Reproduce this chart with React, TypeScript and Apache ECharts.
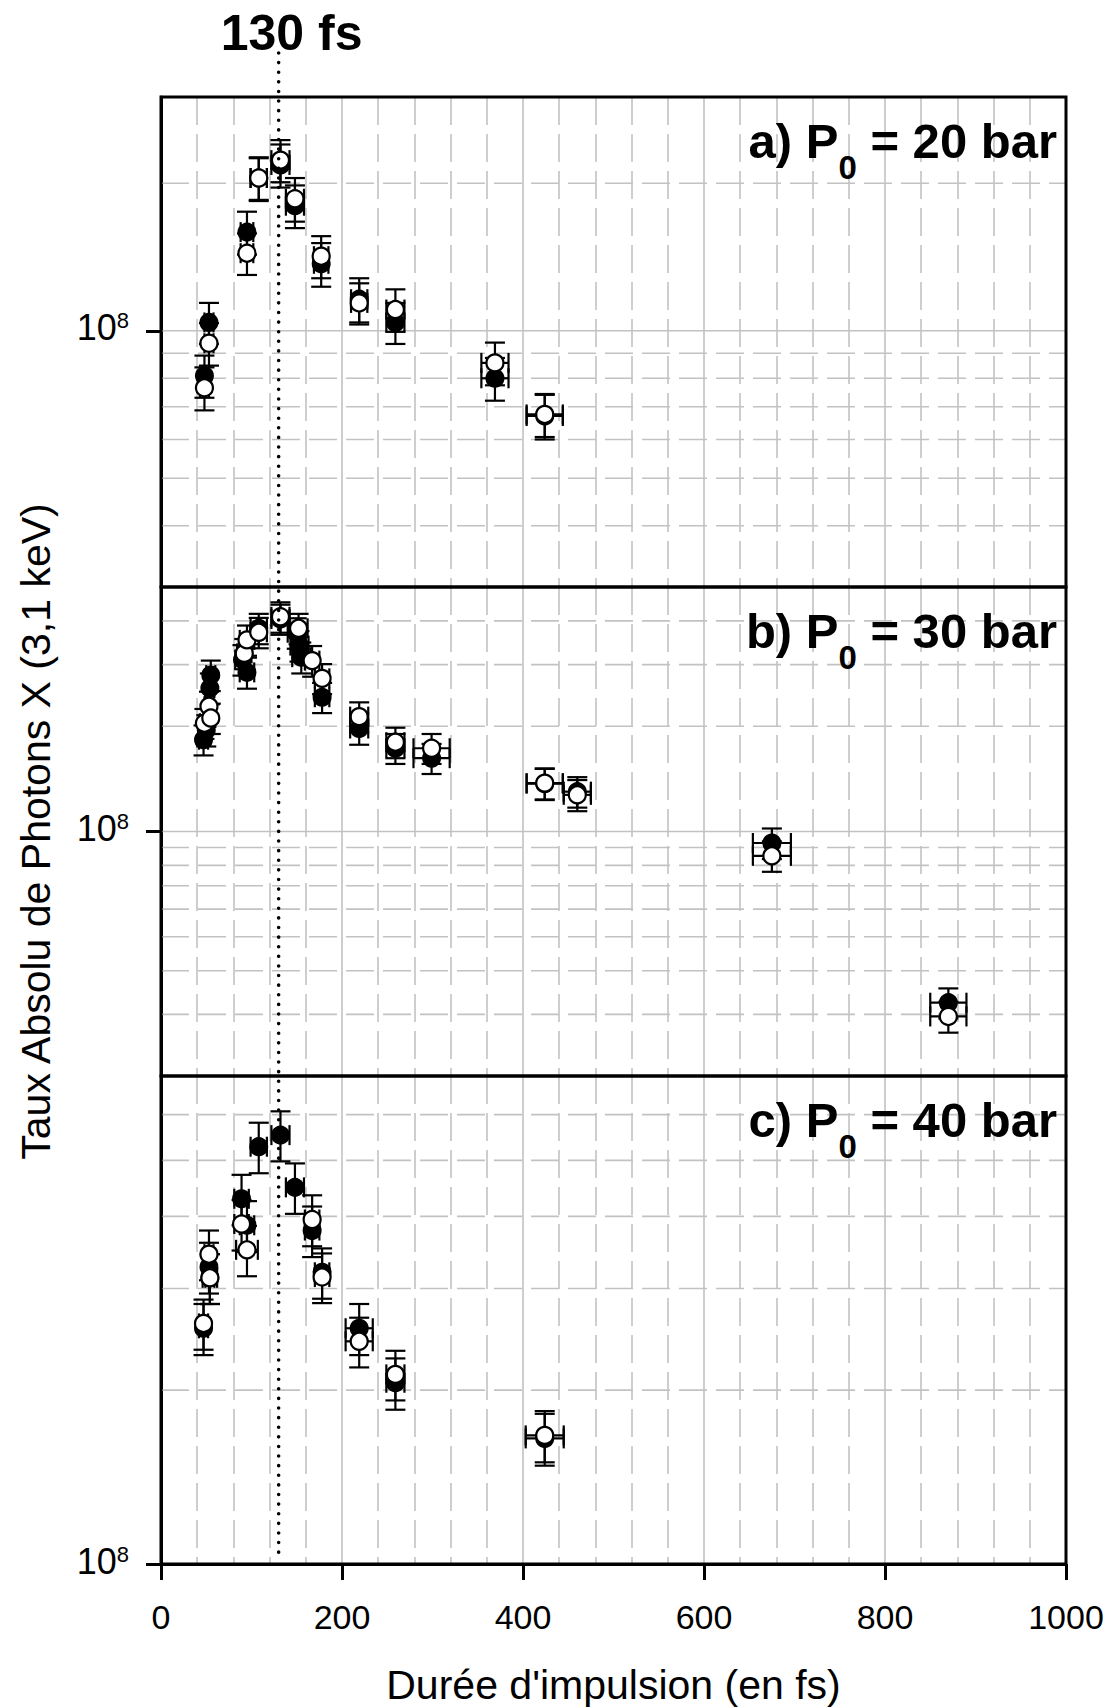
import React, { useEffect, useRef } from "react";
import * as echarts from "echarts";

const FONT = '"Liberation Sans", Arial, Helvetica, sans-serif';
const GRID_COLOR = "#c2c2c2";

// ---- axes / annotation values ----
const X_MIN = 0;
const X_MAX = 1000;
const X_STEP = 200;
const X_MINOR_SPLIT = 5;
const PULSE_REF = 130;
const PULSE_LABEL = "130 fs";
const X_TITLE = "Durée d'impulsion (en fs)";
const Y_TITLE = "Taux Absolu de Photons X (3,1 keV)";
const Y_UNIT = 1e8; // y values below are in units of 1e8 photons
const Y_LABEL_VALUES = [1];

// ---- panel a) P0 = 20 bar ----
const aTitle = ["a) P", "0", " = 20 bar"];
const aYRange = [0.3, 3];
const aGridMinor = [0.4, 0.5, 0.6, 0.7, 0.8, 0.9, 2];
const aGridMajor = [1];
const aFilledX = [48, 53, 95, 108, 132, 148, 177, 219, 259, 369, 424];
const aFilledY = [0.81, 1.04, 1.59, 2.05, 2.18, 1.8, 1.37, 1.16, 1.04, 0.8, 0.67];
const aFilledXErr = [5, 5, 7, 9, 10, 10, 8, 9, 10, 15, 20];
const aFilledYErr = [0.08, 0.1, 0.16, 0.21, 0.22, 0.18, 0.14, 0.12, 0.1, 0.08, 0.07];
const aOpenX = [48, 53, 95, 108, 132, 148, 177, 219, 259, 369, 424];
const aOpenY = [0.765, 0.943, 1.44, 2.05, 2.23, 1.86, 1.42, 1.14, 1.105, 0.86, 0.675];
const aOpenXErr = [5, 5, 7, 9, 10, 10, 8, 9, 10, 15, 20];
const aOpenYErr = [0.077, 0.094, 0.14, 0.2, 0.22, 0.19, 0.14, 0.11, 0.11, 0.086, 0.068];

// ---- panel b) P0 = 30 bar ----
const bTitle = ["b) P", "0", " = 30 bar"];
const bYRange = [0.2, 5];
const bGridMinor = [0.3, 0.4, 0.5, 0.6, 0.7, 0.8, 0.9, 2, 3, 4];
const bGridMajor = [1];
const bFilledX = [47, 50, 54, 55, 90, 95, 108, 132, 150, 153, 155, 178, 219, 259, 299, 424, 460, 675, 870];
const bFilledY = [1.83, 1.95, 2.57, 2.8, 3.1, 2.85, 3.81, 4.05, 3.7, 3.4, 3.15, 2.42, 1.97, 1.73, 1.62, 1.37, 1.3, 0.927, 0.324];
const bFilledXErr = [5, 5, 5, 5, 8, 8, 9, 10, 10, 10, 10, 8, 10, 10, 20, 20, 15, 21, 20];
const bFilledYErr = [0.18, 0.2, 0.26, 0.28, 0.31, 0.29, 0.38, 0.4, 0.37, 0.34, 0.32, 0.24, 0.2, 0.17, 0.16, 0.14, 0.13, 0.093, 0.032];
const bOpenX = [48, 53, 55, 92, 95, 108, 132, 152, 167, 178, 219, 259, 299, 424, 460, 675, 870];
const bOpenY = [2.04, 2.28, 2.11, 3.23, 3.53, 3.71, 4.11, 3.81, 3.08, 2.74, 2.13, 1.8, 1.73, 1.375, 1.273, 0.852, 0.296];
const bOpenXErr = [5, 5, 5, 8, 8, 9, 10, 10, 8, 8, 10, 10, 20, 20, 15, 21, 20];
const bOpenYErr = [0.2, 0.23, 0.21, 0.32, 0.35, 0.37, 0.41, 0.38, 0.31, 0.27, 0.21, 0.18, 0.17, 0.14, 0.13, 0.085, 0.03];

// ---- panel c) P0 = 40 bar ----
const cTitle = ["c) P", "0", " = 40 bar"];
const cYRange = [1, 7];
const cGridMinor = [2, 3, 4, 5, 6];
const cGridMajor = [1];
const cFilledX = [47, 53, 54, 89, 95, 108, 132, 148, 167, 178, 219, 259, 424];
const cFilledY = [2.56, 3.27, 3.13, 4.29, 3.86, 5.28, 5.53, 4.49, 3.78, 3.2, 2.56, 2.06, 1.65];
const cFilledXErr = [5, 5, 5, 8, 8, 9, 10, 10, 8, 8, 15, 10, 21];
const cFilledYErr = [0.26, 0.33, 0.31, 0.43, 0.39, 0.53, 0.55, 0.45, 0.38, 0.32, 0.26, 0.21, 0.17];
const cOpenX = [47, 53, 54, 89, 95, 167, 178, 219, 259, 424];
const cOpenY = [2.61, 3.44, 3.13, 3.88, 3.5, 3.95, 3.14, 2.43, 2.13, 1.67];
const cOpenXErr = [5, 5, 8, 8, 12, 8, 8, 15, 10, 21];
const cOpenYErr = [0.26, 0.34, 0.31, 0.39, 0.35, 0.4, 0.31, 0.24, 0.21, 0.17];

// ---- layout ----
const W = 1112;
const H = 1708;
const PLOT_LEFT = 161;
const PLOT_WIDTH = 905;
const PANEL_TOPS = [97, 587, 1076];
const PANEL_HEIGHTS = [490, 489, 488];

const panels = [
  {
    title: aTitle, yRange: aYRange, minor: aGridMinor, major: aGridMajor,
    filled: { x: aFilledX, y: aFilledY, xe: aFilledXErr, ye: aFilledYErr },
    open: { x: aOpenX, y: aOpenY, xe: aOpenXErr, ye: aOpenYErr },
  },
  {
    title: bTitle, yRange: bYRange, minor: bGridMinor, major: bGridMajor,
    filled: { x: bFilledX, y: bFilledY, xe: bFilledXErr, ye: bFilledYErr },
    open: { x: bOpenX, y: bOpenY, xe: bOpenXErr, ye: bOpenYErr },
  },
  {
    title: cTitle, yRange: cYRange, minor: cGridMinor, major: cGridMajor,
    filled: { x: cFilledX, y: cFilledY, xe: cFilledXErr, ye: cFilledYErr },
    open: { x: cOpenX, y: cOpenY, xe: cOpenXErr, ye: cOpenYErr },
  },
];

function gridLineRender(params: any, api: any) {
  const y = api.value(1);
  const major = api.value(3);
  const p1 = api.coord([api.value(0), y]);
  const p2 = api.coord([api.value(2), y]);
  return {
    type: "line",
    shape: { x1: p1[0], y1: p1[1], x2: p2[0], y2: p2[1] },
    style: {
      stroke: GRID_COLOR,
      lineWidth: 1.6,
      lineDash: major ? null : [28, 9],
    },
    silent: true,
  };
}

const CAP = 10;
function errRender(params: any, api: any) {
  const x = api.value(0);
  const y = api.value(1);
  const xe = api.value(2);
  const ye = api.value(3);
  const top = api.coord([x, y + ye]);
  const bot = api.coord([x, y - ye]);
  const lft = api.coord([x - xe, y]);
  const rgt = api.coord([x + xe, y]);
  const style = { stroke: "#000", lineWidth: 2.2, fill: null };
  const ln = (x1: number, y1: number, x2: number, y2: number) => ({
    type: "line",
    shape: { x1, y1, x2, y2 },
    style,
  });
  return {
    type: "group",
    children: [
      ln(top[0], top[1], bot[0], bot[1]),
      ln(top[0] - CAP, top[1], top[0] + CAP, top[1]),
      ln(bot[0] - CAP, bot[1], bot[0] + CAP, bot[1]),
      ln(lft[0], lft[1], rgt[0], rgt[1]),
      ln(lft[0], lft[1] - CAP, lft[0], lft[1] + CAP),
      ln(rgt[0], rgt[1] - CAP, rgt[0], rgt[1] + CAP),
    ],
  };
}

function rows(s: { x: number[]; y: number[]; xe: number[]; ye: number[] }) {
  return s.x.map((x, i) => [x, s.y[i], s.xe[i], s.ye[i]]);
}

export default function App() {
  const ref = useRef<HTMLDivElement>(null);

  useEffect(() => {
    if (!ref.current) return;
    const chart = echarts.init(ref.current, null, { renderer: "svg" });

    const axisNameStyle = { fontSize: 41, color: "#000", fontFamily: FONT };

    const grid = panels.map((p, i) => ({
      left: PLOT_LEFT,
      width: PLOT_WIDTH,
      top: PANEL_TOPS[i],
      height: PANEL_HEIGHTS[i],
      show: true,
      backgroundColor: "transparent",
      borderColor: "#000",
      borderWidth: 3,
      z: 10,
      containLabel: false,
      outerBoundsMode: "none",
    }));

    const xAxis = panels.map((p, i) => {
      const isBottom = i === panels.length - 1;
      return {
        type: "value",
        gridIndex: i,
        min: X_MIN,
        max: X_MAX,
        interval: X_STEP,
        axisLine: { show: isBottom, lineStyle: { color: "#000", width: 3 } },
        axisTick: { show: isBottom, length: 16, inside: false, lineStyle: { color: "#000", width: 3 } },
        axisLabel: {
          show: isBottom,
          fontSize: 34,
          color: "#000",
          fontFamily: FONT,
          margin: 36,
          showMinLabel: true,
          showMaxLabel: true,
          formatter: (v: number) => String(v),
        },
        splitLine: { show: true, lineStyle: { color: GRID_COLOR, width: 1.6 } },
        minorTick: { show: false, splitNumber: X_MINOR_SPLIT },
        minorSplitLine: { show: true, lineStyle: { color: GRID_COLOR, width: 1.6, type: [28, 9] } },
        name: isBottom ? X_TITLE : "",
        nameLocation: "middle",
        nameGap: 100,
        nameTextStyle: axisNameStyle,
      };
    });

    const yAxis = panels.map((p, i) => ({
      type: "log",
      logBase: 10,
      gridIndex: i,
      min: p.yRange[0],
      max: p.yRange[1],
      axisLine: { show: true, lineStyle: { color: "#000", width: 3 } },
      axisTick: {
        show: true,
        customValues: Y_LABEL_VALUES,
        length: 15,
        inside: false,
        lineStyle: { color: "#000", width: 3 },
      },
      axisLabel: {
        show: true,
        customValues: Y_LABEL_VALUES,
        margin: 32,
        formatter: (v: number) => {
          const exp = Math.round(Math.log10(v * Y_UNIT));
          return "{n|10}{e|" + exp + "}";
        },
        rich: {
          n: { fontSize: 36, fontFamily: FONT, color: "#000", lineHeight: 42, verticalAlign: "top" },
          e: { fontSize: 22, fontFamily: FONT, color: "#000", lineHeight: 30, verticalAlign: "top" },
        },
      },
      splitLine: { show: false },
      minorTick: { show: false },
      minorSplitLine: { show: false },
      name: i === 1 ? Y_TITLE : "",
      nameLocation: "middle",
      nameGap: 105,
      nameTextStyle: axisNameStyle,
    }));

    const series: any[] = [];
    panels.forEach((p, i) => {
      const gridData = [
        ...p.minor.map((v) => [X_MIN, v, X_MAX, 0]),
        ...p.major.map((v) => [X_MIN, v, X_MAX, 1]),
      ];
      series.push({
        type: "custom",
        xAxisIndex: i,
        yAxisIndex: i,
        z: 1,
        silent: true,
        renderItem: gridLineRender,
        encode: { x: [0, 2], y: 1 },
        data: gridData,
      });
      series.push({
        type: "custom",
        xAxisIndex: i,
        yAxisIndex: i,
        z: 2,
        silent: true,
        renderItem: errRender,
        encode: { x: 0, y: 1 },
        data: rows(p.filled),
      });
      series.push({
        type: "scatter",
        xAxisIndex: i,
        yAxisIndex: i,
        z: 2,
        silent: true,
        symbol: "circle",
        symbolSize: 17,
        itemStyle: { color: "#000", borderColor: "#000", borderWidth: 2, opacity: 1 },
        data: p.filled.x.map((x, k) => [x, p.filled.y[k]]),
      });
      series.push({
        type: "custom",
        xAxisIndex: i,
        yAxisIndex: i,
        z: 2,
        silent: true,
        renderItem: errRender,
        encode: { x: 0, y: 1 },
        data: rows(p.open),
      });
      series.push({
        type: "scatter",
        xAxisIndex: i,
        yAxisIndex: i,
        z: 2,
        silent: true,
        symbol: "circle",
        symbolSize: 17,
        itemStyle: { color: "#fff", borderColor: "#000", borderWidth: 2.2, opacity: 1 },
        data: p.open.x.map((x, k) => [x, p.open.y[k]]),
      });
    });

    chart.setOption({
      animation: false,
      backgroundColor: "#fff",
      textStyle: { fontFamily: FONT },
      grid,
      xAxis,
      yAxis,
      series,
    });

    const px = chart.convertToPixel({ xAxisIndex: 0 }, PULSE_REF) as number;
    const lastBottom = PANEL_TOPS[2] + PANEL_HEIGHTS[2];

    const labelRich = {
      m: { fontSize: 49, fontWeight: "bold", fontFamily: FONT, color: "#000", lineHeight: 56, verticalAlign: "top" },
      s: { fontSize: 33, fontWeight: "bold", fontFamily: FONT, color: "#000", lineHeight: 68, verticalAlign: "bottom" },
    };

    const elements: any[] = [
      {
        type: "line",
        z: 100,
        silent: true,
        shape: { x1: px, y1: 53, x2: px, y2: lastBottom - 5 },
        style: { stroke: "#000", lineWidth: 3.6, lineDash: [0.01, 9.6], lineCap: "round" },
      },
      {
        type: "text",
        z: 100,
        silent: true,
        x: px + 13,
        y: 33,
        style: {
          text: PULSE_LABEL,
          fontSize: 50,
          fontWeight: "bold",
          fontFamily: FONT,
          fill: "#000",
          align: "center",
          verticalAlign: "middle",
        },
      },
      ...panels.map((p, i) => ({
        type: "text",
        z: 100,
        silent: true,
        x: PLOT_LEFT + PLOT_WIDTH - 9,
        y: PANEL_TOPS[i] + 19,
        style: {
          text: "{m|" + p.title[0] + "}{s|" + p.title[1] + "}{m|" + p.title[2] + "}",
          rich: labelRich,
          align: "right",
          verticalAlign: "top",
        },
      })),
    ];

    chart.setOption({ graphic: { elements } });

    return () => {
      chart.dispose();
    };
  }, []);

  return (
    <div
      ref={ref}
      style={{ position: "absolute", left: 0, top: 0, width: W, height: H, background: "#fff" }}
    />
  );
}
